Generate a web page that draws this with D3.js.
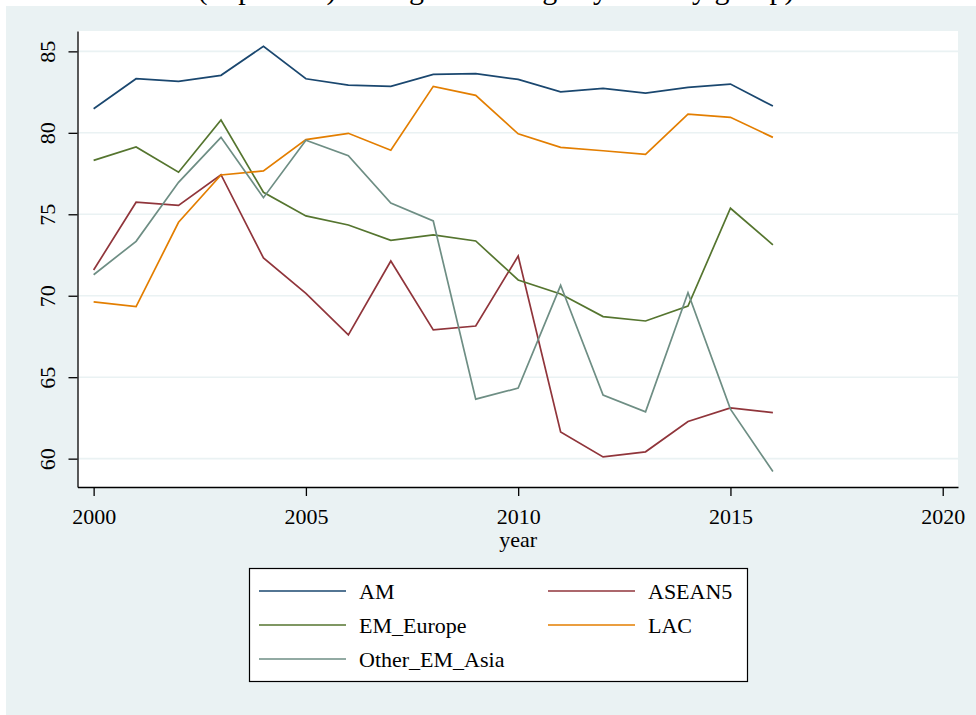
<!DOCTYPE html>
<html lang="en">
<head>
    <meta charset="UTF-8">
    <script src="https://d3js.org/d3.v7.min.js"></script>
    <title>Country groups</title>
    <style>
        body { margin: 0; background: #fff; }
        text { font-family: 'Liberation Serif', 'Times New Roman', serif; fill: #000; }
        .axis path, .axis line { stroke: #000; stroke-width: 1.3; }
        .axis text { font-size: 22px; }
    </style>
</head>
<body>
<svg height="715" width="976"></svg>
<script>
    const width = 976, height = 715;

    const years = d3.range(2000, 2017);
    const groups = ["AM", "ASEAN5", "EM_Europe", "LAC", "Other_EM_Asia"];
    const AM = [81.48, 83.32, 83.16, 83.53, 85.31, 83.32, 82.93, 82.85, 83.59, 83.63, 83.28, 82.52, 82.73, 82.44, 82.79, 82.99, 81.64];
    const ASEAN5 = [71.58, 75.74, 75.55, 77.43, 72.32, 70.15, 67.60, 72.13, 67.90, 68.14, 72.44, 61.64, 60.11, 60.42, 62.28, 63.12, 62.83];
    const EM_Europe = [78.31, 79.13, 77.58, 80.79, 76.35, 74.90, 74.34, 73.40, 73.73, 73.36, 70.97, 70.11, 68.72, 68.45, 69.37, 75.37, 73.12];
    const LAC = [69.62, 69.33, 74.51, 77.41, 77.66, 79.58, 79.97, 78.93, 82.85, 82.30, 79.94, 79.11, 78.90, 78.68, 81.15, 80.95, 79.72];
    const Other_EM_Asia = [71.29, 73.34, 76.96, 79.72, 76.02, 79.54, 78.60, 75.69, 74.59, 63.65, 64.33, 70.64, 63.90, 62.87, 70.19, 63.04, 59.21];
    const xTicks = [2000, 2005, 2010, 2015, 2020];
    const yTicks = [60, 65, 70, 75, 80, 85];

    const series = [AM, ASEAN5, EM_Europe, LAC, Other_EM_Asia];
    const colors = ["#1a476f", "#90353b", "#55752f", "#e37e00", "#6e8e84"];

    const svg = d3.select("svg");
    const plot = {left: 77.5, right: 958, top: 31, bottom: 487};

    // graph background
    svg.append("rect").attr("x", 6).attr("y", 6).attr("width", width).attr("height", height)
        .attr("fill", "#eaf2f3");
    svg.append("rect").attr("x", plot.left).attr("y", plot.top)
        .attr("width", plot.right - plot.left).attr("height", plot.bottom - plot.top)
        .attr("fill", "#fff");

    // title mostly cut off at the top
    svg.append("text").attr("x", 496).attr("y", -1).attr("text-anchor", "middle")
        .style("font-size", "30px")
        .text("(in percent) average of average by country group)");

    const x = d3.scaleLinear().domain([1999.62, 2020.36]).range([plot.left, plot.right]);
    const y = d3.scaleLinear().domain([58.26, 86.25]).range([plot.bottom, plot.top]);

    // gridlines
    svg.append("g").selectAll("line").data(yTicks).enter().append("line")
        .attr("x1", plot.left).attr("x2", plot.right)
        .attr("y1", y).attr("y2", y)
        .attr("stroke", "#eaf2f3").attr("stroke-width", 1.6);

    const yAxis = svg.append("g").attr("class", "axis")
        .attr("transform", `translate(${plot.left},0)`)
        .call(d3.axisLeft(y).tickValues(yTicks).tickSize(9).tickSizeOuter(0));
    yAxis.selectAll("text")
        .attr("transform", "rotate(-90)")
        .attr("x", 0).attr("y", -22.5).attr("dy", "0")
        .style("text-anchor", "middle");

    const xAxis = svg.append("g").attr("class", "axis")
        .attr("transform", `translate(0,${plot.bottom})`)
        .call(d3.axisBottom(x).tickValues(xTicks).tickFormat(d3.format("d")).tickSize(9).tickSizeOuter(0));
    xAxis.selectAll("text").attr("y", 37).attr("dy", "0");

    svg.append("text").attr("x", (x(2000) + x(2020)) / 2).attr("y", 547)
        .attr("text-anchor", "middle").style("font-size", "22px").text("year");

    const line = d3.line().x((d, i) => x(years[i])).y(d => y(d));
    svg.append("g").selectAll("path").data(series).enter().append("path")
        .attr("d", line)
        .attr("fill", "none")
        .attr("stroke", (d, i) => colors[i])
        .attr("stroke-width", 1.7)
        .attr("stroke-linejoin", "miter");

    // legend
    const legend = svg.append("g");
    legend.append("rect").attr("x", 249.5).attr("y", 568.5).attr("width", 498).attr("height", 113)
        .attr("fill", "#fff").attr("stroke", "#000").attr("stroke-width", 1.2);
    const items = legend.selectAll("g").data(groups).enter().append("g")
        .attr("transform", (d, i) => `translate(${i % 2 === 0 ? 259 : 548},${599 + 34 * Math.floor(i / 2)})`);
    items.append("line").attr("x1", 0).attr("x2", 87).attr("y1", -8).attr("y2", -8)
        .attr("stroke", (d, i) => colors[i]).attr("stroke-width", 1.7);
    items.append("text").attr("x", 100).attr("y", 0).style("font-size", "22px").text(d => d);
</script>
</body>
</html>
